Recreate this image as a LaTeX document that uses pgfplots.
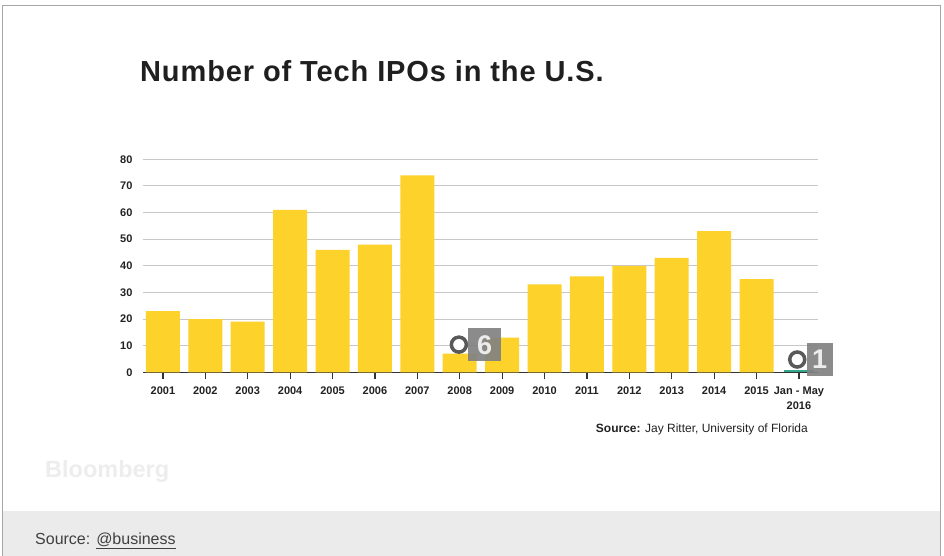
\documentclass[border=0pt]{standalone}
\usepackage{fontspec}
\setmainfont{Liberation Sans}
\usepackage{pgfplots}
\pgfplotsset{compat=1.18}
\definecolor{baryellow}{HTML}{FCD22B}
\definecolor{tealbar}{HTML}{2FA88C}
\definecolor{footgray}{HTML}{EBEBEB}
\definecolor{ticktext}{HTML}{222222}
\definecolor{boxgray}{HTML}{828282}
\begin{document}
\begin{tikzpicture}
\useasboundingbox (0pt,0pt) rectangle (944pt,556pt);
\fill[white] (0pt,0pt) rectangle (944pt,556pt);
\fill[footgray] (2pt,0pt) rectangle (940pt,45pt);
\draw[black!35, line width=1pt] (2pt,0pt) -- (2pt,550pt) -- (940pt,550pt) -- (940pt,0pt);
\node[anchor=base west, inner sep=0pt, font=\addfontfeatures{LetterSpace=3}\fontsize{29}{32}\selectfont\bfseries, text=black!88] at (140pt,474.3pt) {Number of Tech IPOs in the U.S.};
\node[anchor=base east, inner sep=0pt, font=\fontsize{12}{14}\selectfont, text=ticktext] at (808pt,123pt) {\textbf{Source:} Jay Ritter, University of Florida};
\node[anchor=base west, inner sep=0pt, font=\fontsize{23.5}{26}\selectfont\bfseries, text=black!7] at (45pt,78pt) {Bloomberg};
\node[anchor=base west, inner sep=0pt, font=\fontsize{16}{18}\selectfont, text=black!75] at (35pt,11pt) {Source: \underline{@business}};
\begin{axis}[
  at={(143pt,183.7pt)}, anchor=south west,
  scale only axis, width=675pt, height=213pt,
  xmin=-0.47, xmax=15.45, ymin=0, ymax=80,
  clip=false,
  axis x line*=bottom, axis y line*=left,
  x axis line style={draw=black!80, line width=1.5pt, -},
  y axis line style={draw=none},
  ytick={0,10,...,80},
  xtick={0,...,15},
  xticklabels={2001,2002,2003,2004,2005,2006,2007,2008,2009,2010,2011,2012,2013,2014,2015,{Jan - May\\2016}},
  xticklabel style={align=center, yshift=-4pt},
  tick align=outside,
  major tick length=7pt,
  ytick style={draw=none},
  xtick style={draw=black!80, line width=1.2pt},
  ymajorgrids,
  major grid style={black!22, line width=1pt},
  /pgf/number format/assume math mode=true,
  tick label style={font=\fontsize{11}{15.5}\selectfont\bfseries, text=ticktext},
]
\addplot[ybar, bar shift=0pt, bar width=34pt, fill=baryellow, draw=none] coordinates {
(0,23) (1,20) (2,19) (3,61) (4,46) (5,48) (6,74) (7,7) (8,13) (9,33) (10,36) (11,40) (12,43) (13,53) (14,35)
};
\addplot[ybar, bar shift=0pt, bar width=30pt, fill=tealbar, draw=none] coordinates {(15,1)};
\addplot[boxgray, only marks, mark=square*, mark size=16.5pt, mark options={fill=boxgray, draw=boxgray, line width=0pt, fill opacity=0.92, draw opacity=0},
  nodes near coords={6}, every node near coord/.style={anchor=center, text=black!4, font=\fontsize{27}{27}\selectfont\bfseries}] coordinates {(7.59,10.3)};
\addplot[boxgray, only marks, mark=square*, mark size=16.5pt, mark options={fill=boxgray, draw=boxgray, line width=0pt, fill opacity=0.92, draw opacity=0, xscale=0.8},
  nodes near coords={1}, every node near coord/.style={anchor=center, text=black!4, font=\fontsize{27}{27}\selectfont\bfseries}] coordinates {(15.49,4.8)};
\addplot[black!65, only marks, mark=*, mark size=7.5pt, mark options={draw=black!65, fill=white, line width=3.5pt}] coordinates {(6.98,10.4) (14.96,4.8)};
\end{axis}
\end{tikzpicture}
\end{document}
